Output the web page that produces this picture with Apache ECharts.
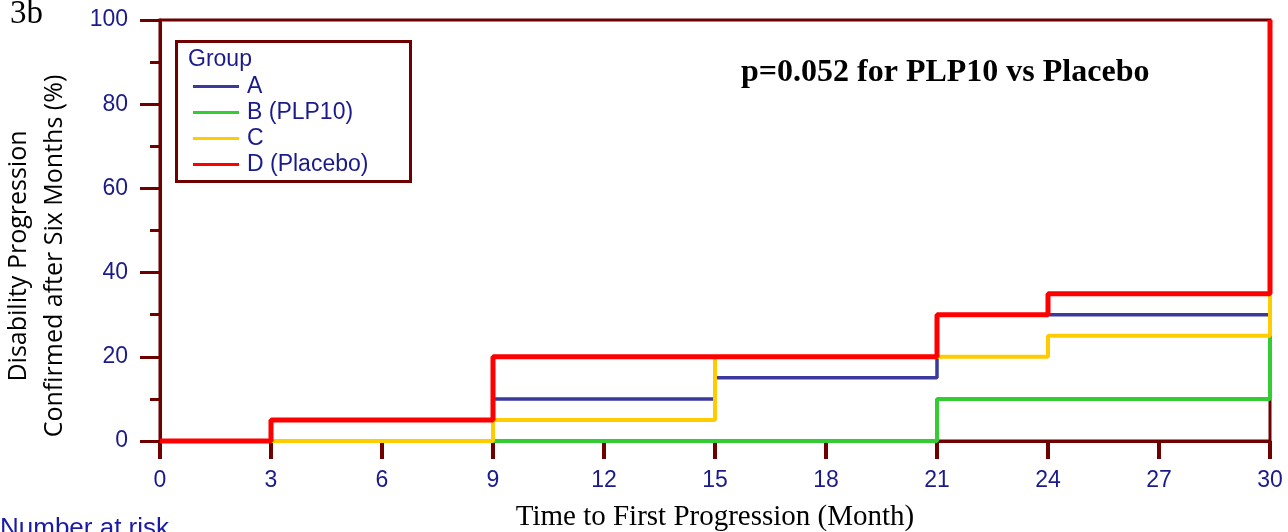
<!DOCTYPE html>
<html>
<head>
<meta charset="utf-8">
<script src="https://cdn.jsdelivr.net/npm/echarts@6/dist/echarts.min.js"></script>
<style>html,body{margin:0;padding:0;background:#fff;}#chart{width:1288px;height:532px;}</style>
</head>
<body>
<div id="chart"></div>
<script>
// ---- data ----
const groupNames = ['A', 'B (PLP10)', 'C', 'D (Placebo)'];
const timesA = [0, 9, 15, 21, 30];
const valuesA = [0, 10, 15, 30, 30];
const timesB = [0, 21, 30];
const valuesB = [0, 10, 25];
const timesC = [0, 9, 15, 24, 30];
const valuesC = [0, 5, 20, 25, 35];
const timesD = [0, 3, 9, 21, 24, 30];
const valuesD = [0, 5, 20, 30, 35, 100];
const xTicks = [0, 3, 6, 9, 12, 15, 18, 21, 24, 27, 30];
const yTicks = [0, 20, 40, 60, 80, 100];

const colors = ['#3a3a9c', '#33cc33', '#ffcc00', '#ff0000'];
const widths = [3.5, 4, 4, 5];
const axisColor = '#6e0000';
const navy = '#1a1a8c';

function pairs(t, v) { return t.map((x, i) => [x, v[i]]); }
const seriesData = [pairs(timesA, valuesA), pairs(timesB, valuesB), pairs(timesC, valuesC), pairs(timesD, valuesD)];

const chart = echarts.init(document.getElementById('chart'), null, {renderer: 'canvas'});
const option = {
  animation: false,
  backgroundColor: '#fff',
  grid: {left: 160, right: 18, top: 20, bottom: 91, outerBoundsMode: 'none', containLabel: false, show: true, borderColor: axisColor, borderWidth: 3, backgroundColor: 'transparent'},
  xAxis: {
    type: 'value', min: xTicks[0], max: xTicks[xTicks.length - 1], interval: 3,
    name: 'Time to First Progression (Month)', nameLocation: 'middle', nameGap: 62,
    nameTextStyle: {fontFamily: 'Liberation Serif', fontSize: 29, color: '#000'},
    axisLine: {show: true, lineStyle: {color: axisColor, width: 3}},
    axisTick: {show: true, length: 18, lineStyle: {color: axisColor, width: 4}},
    axisLabel: {margin: 28, fontFamily: 'Liberation Sans', fontSize: 23, color: navy},
    splitLine: {show: false}
  },
  yAxis: {
    type: 'value', min: yTicks[0], max: yTicks[yTicks.length - 1], interval: 20,
    axisLine: {show: true, lineStyle: {color: axisColor, width: 3}},
    axisTick: {show: true, length: 20, lineStyle: {color: axisColor, width: 3}},
    minorTick: {show: true, splitNumber: 2, length: 10, lineStyle: {color: axisColor, width: 3}},
    axisLabel: {margin: 32, fontFamily: 'Liberation Sans', fontSize: 23, color: navy},
    splitLine: {show: false}
  },
  legend: {
    orient: 'vertical', left: 188, top: 70, itemWidth: 46, itemHeight: 3, itemGap: 3,
    icon: 'rect', selectedMode: false,
    textStyle: {fontFamily: 'Liberation Sans', fontSize: 23, lineHeight: 20, color: navy, padding: [0, 0, 0, 3]},
    data: groupNames
  },
  graphic: [
    {type: 'rect', left: 175, top: 40, z: 0, shape: {width: 234, height: 140}, style: {fill: '#fff', stroke: axisColor, lineWidth: 3}},
    {type: 'text', left: 188, top: 48, z: 5, style: {text: 'Group', fontFamily: 'Liberation Sans', fontSize: 23, fill: navy}},
    {type: 'text', x: 741, y: 73, z: 5, style: {text: 'p=0.052 for PLP10 vs Placebo', fontFamily: 'Liberation Serif', fontWeight: 'bold', fontSize: 32, fill: '#000', textVerticalAlign: 'middle'}},
    {type: 'text', x: 10, y: -2, z: 5, style: {text: '3b', fontFamily: 'Liberation Serif', fontSize: 33, fill: '#000', textVerticalAlign: 'top'}},
    {type: 'text', x: 0, y: 516, z: 5, style: {text: 'Number at risk', fontFamily: 'Liberation Sans', fontSize: 26, fill: '#1a1aa6', textVerticalAlign: 'top'}},
    {type: 'text', x: 19, y: 256, rotation: Math.PI / 2, z: 5, style: {text: 'Disability Progression', fontFamily: 'Open Sans', fontSize: 25, fill: '#000', textAlign: 'center', textVerticalAlign: 'middle'}},
    {type: 'text', x: 55, y: 256, rotation: Math.PI / 2, z: 5, style: {text: 'Confirmed after Six Months (%)', fontFamily: 'Open Sans', fontSize: 25, fill: '#000', textAlign: 'center', textVerticalAlign: 'middle'}}
  ],
  series: groupNames.map((name, i) => ({
    name: name, type: 'line', step: 'end', symbol: 'none', clip: false,
    data: seriesData[i], z: 3 + i,
    itemStyle: {color: colors[i]},
    lineStyle: {color: colors[i], width: widths[i]}
  }))
};
chart.setOption(option);
</script>
</body>
</html>
